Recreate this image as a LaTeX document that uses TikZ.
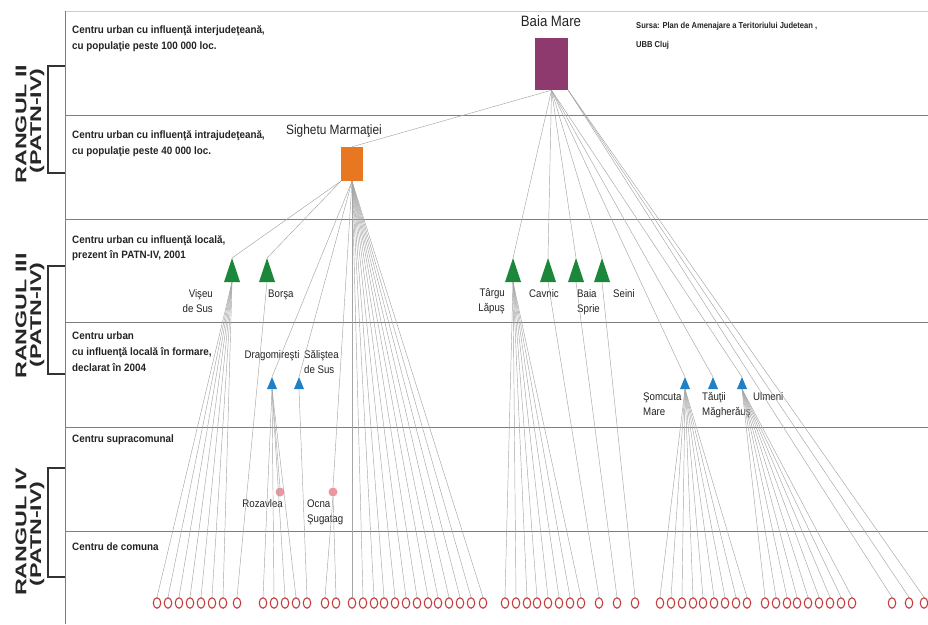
\documentclass[tikz,border=0pt]{standalone}
\usepackage{fontspec}
\setmainfont{Liberation Sans}
\newfontfamily\nar[FakeStretch=0.88]{Liberation Sans}
\newfontfamily\narb[FakeStretch=0.92]{Liberation Sans}
\newfontfamily\wid[FakeStretch=1.5]{Liberation Sans}
\usetikzlibrary{shapes.geometric}
\definecolor{bmcol}{RGB}{142,58,110}
\definecolor{smcol}{RGB}{232,119,34}
\definecolor{grcol}{RGB}{26,135,58}
\definecolor{blcol}{RGB}{31,128,200}
\definecolor{pkcol}{RGB}{236,150,160}
\definecolor{rdcol}{RGB}{196,60,60}
\definecolor{lncol}{RGB}{165,165,165}
\definecolor{bandcol}{RGB}{125,125,125}
\definecolor{txtcol}{RGB}{35,35,35}
\begin{document}
\begin{tikzpicture}[x=1pt,y=-1pt,
  bandline/.style={draw=bandcol, line width=0.8pt},
  brk/.style={draw=black!80, line width=1.3pt},
  conn/.style={draw=lncol, line width=0.45pt},
  gtri/.style={minimum width=16pt, minimum height=24pt, inner sep=0pt, outer sep=0pt,
    path picture={\fill[grcol] (path picture bounding box.south west) -- (path picture bounding box.north) -- (path picture bounding box.south east) -- cycle;}},
  btri/.style={minimum width=10pt, minimum height=12pt, inner sep=0pt, outer sep=0pt,
    path picture={\fill[blcol] (path picture bounding box.south west) -- (path picture bounding box.north) -- (path picture bounding box.south east) -- cycle;}},
  comm/.style={ellipse, draw=rdcol, line width=1.1pt, minimum width=7.5pt, minimum height=10.5pt, inner sep=0pt},
  pdot/.style={circle, fill=pkcol, minimum size=9pt, inner sep=0pt},
  lbl/.style={font=\nar\fontsize{11}{13}\selectfont, text=txtcol, inner sep=0pt},
  blab/.style={font=\narb\bfseries\fontsize{10.7}{16}\selectfont, text=txtcol, inner sep=0pt, anchor=base west},
  slab/.style={font=\nar\bfseries\fontsize{8.6}{12}\selectfont, text=txtcol, inner sep=0pt, anchor=base west},
  rk/.style={font=\wid\bfseries\fontsize{15.5}{18}\selectfont, text=black!85, inner sep=0pt, rotate=90}
]
\useasboundingbox (0,0) rectangle (928,624);
% frame and bands
\draw[draw=black!20, line width=0.8pt] (65,11) -- (928,11);
\draw[bandline] (65,11) -- (65,624);
\foreach \yy in {115,219,322,427,531} \draw[bandline] (65,\yy) -- (928,\yy);
% brackets
\draw[brk] (65,66) -- (48,66) -- (48,173) -- (65,173);
\draw[brk] (65,266) -- (48,266) -- (48,374) -- (65,374);
\draw[brk] (65,468) -- (48,468) -- (48,577) -- (65,577);
\node[rk] (r2a) at (21,124) {RANGUL II};
\node[rk] (r2b) at (37,121) {(PATN-IV)};
\node[rk] (r3a) at (21,316) {RANGUL III};
\node[rk] (r3b) at (37,315) {(PATN-IV)};
\node[rk] (r4a) at (21,532) {RANGUL IV};
\node[rk] (r4b) at (37,534) {(PATN-IV)};
% band labels
\node[blab] (b1a) at (72,33) {Centru urban cu influenţă interjudeţeană,};
\node[blab] (b1b) at (72,49) {cu populaţie peste 100 000 loc.};
\node[blab] (b2a) at (72,138) {Centru urban cu influenţă intrajudeţeană,};
\node[blab] (b2b) at (72,154) {cu populaţie peste 40 000 loc.};
\node[blab] (b3a) at (72,243) {Centru urban cu influenţă locală,};
\node[blab] (b3b) at (72,258) {prezent în PATN-IV, 2001};
\node[blab] (b4a) at (72,339) {Centru urban};
\node[blab] (b4b) at (72,355) {cu influenţă locală în formare,};
\node[blab] (b4c) at (72,371) {declarat în 2004};
\node[blab] (b5a) at (72,442) {Centru supracomunal};
\node[blab] (b6a) at (72,550) {Centru de comuna};
\node[slab] (src1) at (636,28) {Sursa: Plan de Amenajare a Teritoriului Judetean ,};
\node[slab] (src2) at (636,47) {UBB Cluj};
% main nodes
\node[fill=bmcol, minimum width=33pt, minimum height=52pt, inner sep=0pt] (bm) at (551.5,64) {};
\node[lbl, font=\nar\fontsize{15}{17}\selectfont, anchor=base] (bmt) at (551,26) {Baia Mare};
\node[fill=smcol, minimum width=22pt, minimum height=34pt, inner sep=0pt] (sm) at (352,164) {};
\node[lbl, font=\nar\fontsize{13.5}{16}\selectfont, anchor=base] (smt) at (334,134) {Sighetu Marmaţiei};
% green triangles
\node[gtri] (vis) at (232,270) {};
\node[gtri] (bor) at (267,270) {};
\node[gtri] (tl)  at (513,270) {};
\node[gtri] (cav) at (548,270) {};
\node[gtri] (bs)  at (576,270) {};
\node[gtri] (sei) at (602,270) {};
\node[lbl, anchor=base east] (visa) at (213,297) {Vişeu};
\node[lbl, anchor=base east] (visb) at (213,312) {de Sus};
\node[lbl, anchor=base west] (bora) at (268,297) {Borşa};
\node[lbl, anchor=base east] (tla) at (505,296) {Târgu};
\node[lbl, anchor=base east] (tlb) at (505,311) {Lăpuş};
\node[lbl, anchor=base west] (cava) at (529,297) {Cavnic};
\node[lbl, anchor=base west] (bsa) at (577,297) {Baia};
\node[lbl, anchor=base west] (bsb) at (577,312) {Sprie};
\node[lbl, anchor=base west] (seia) at (613,297) {Seini};
% blue triangles
\node[btri] (dra) at (272,383) {};
\node[btri] (sal) at (299,383) {};
\node[btri] (som) at (685,383) {};
\node[btri] (tau) at (713,383) {};
\node[btri] (ulm) at (742,383) {};
\node[lbl, anchor=base] (draa) at (272,358) {Dragomireşti};
\node[lbl, anchor=base west] (sala) at (304,358) {Săliştea};
\node[lbl, anchor=base west] (salb) at (304,373) {de Sus};
\node[lbl, anchor=base west] (soma) at (643,400) {Şomcuta};
\node[lbl, anchor=base west] (somb) at (643,415) {Mare};
\node[lbl, anchor=base west] (taua) at (702,400) {Tăuţii};
\node[lbl, anchor=base west] (taub) at (702,415) {Măgherăuş};
\node[lbl, anchor=base west] (ulma) at (753,400) {Ulmeni};
% pink dots
\node[pdot] (roz) at (280,492) {};
\node[pdot] (ocn) at (333,492) {};
\node[lbl, anchor=base east] (roza) at (283,507) {Rozavlea};
\node[lbl, anchor=base west] (ocna) at (307,507) {Ocna};
\node[lbl, anchor=base west] (ocnb) at (307,522) {Şugatag};
% upper connectors
\draw[conn] (bm.south) -- (sm.north);
\foreach \t in {tl,cav,bs,sei,som,tau,ulm} \draw[conn] (bm.south) -- (\t.north);
\foreach \t in {vis,bor} \draw[conn] (sm.south west) -- (\t.north);
\foreach \t in {dra,sal,ocn} \draw[conn] (sm.south) -- (\t.north);
\draw[conn] (dra.south) -- (roz.north);
% communes
\foreach \x/\p [count=\i] in {157/vis.south,168/vis.south,179/vis.south,190/vis.south,201/vis.south,212/vis.south,223/vis.south,
  237/bor.south,263/dra.south,274/dra.south,285/dra.south,296/dra.south,307/sal.south,325/ocn.south,336/ocn.south,
  352/sm.south,363/sm.south,374/sm.south,384/sm.south,395/sm.south,406/sm.south,417/sm.south,428/sm.south,438/sm.south,449/sm.south,460/sm.south,471/sm.south,483/sm.south,
  505/tl.south,516/tl.south,527/tl.south,537/tl.south,548/tl.south,559/tl.south,570/tl.south,581/tl.south,
  599/cav.south,617/bs.south,635/sei.south,
  660/som.south,671/som.south,682/som.south,693/som.south,703/som.south,714/som.south,725/som.south,736/som.south,747/som.south,
  765/ulm.south,776/ulm.south,787/ulm.south,797/ulm.south,808/ulm.south,819/ulm.south,830/ulm.south,841/ulm.south,852/ulm.south,
  892/bm.south east,909/bm.south east,924/bm.south east}
{
  \node[comm] (c\i) at (\x,603) {};
  \draw[conn] (\p) -- (c\i.north);
}
\end{tikzpicture}
\end{document}
